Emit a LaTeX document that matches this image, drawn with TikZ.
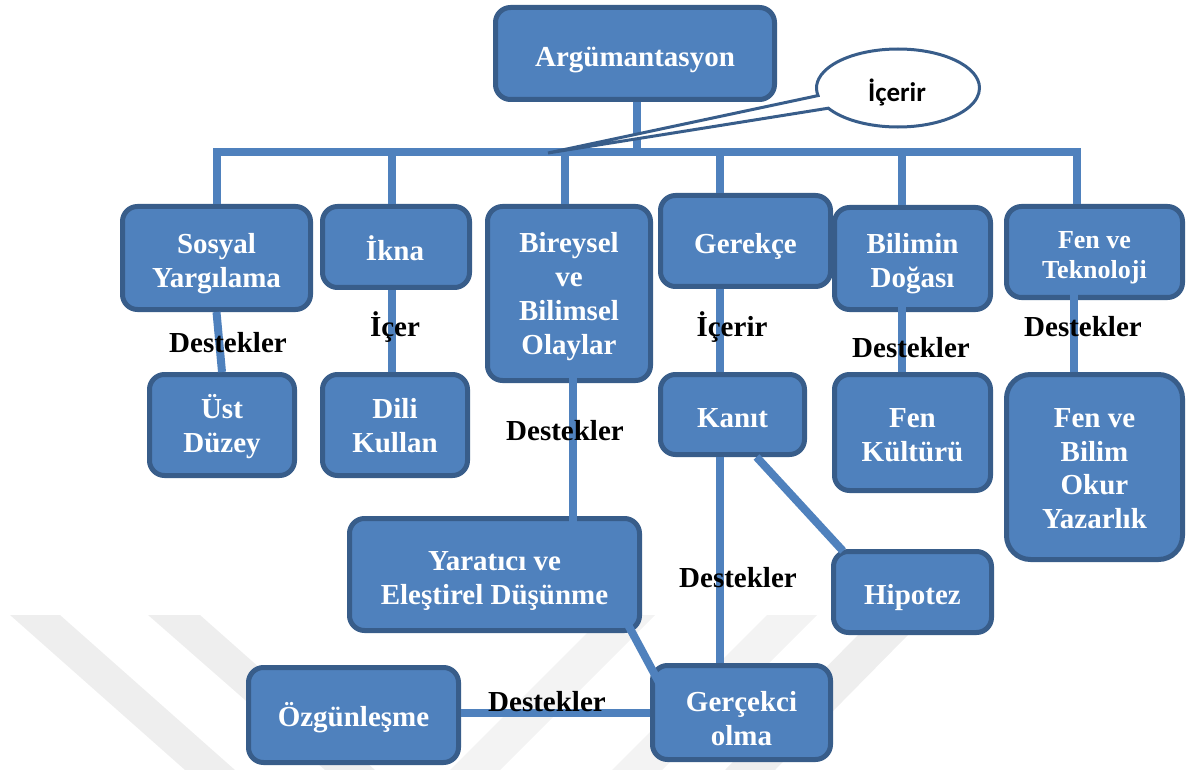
\documentclass[tikz,border=0pt]{standalone}
\usepackage{fontspec}
\setmainfont{Liberation Serif}
\newfontfamily\calibrifont{Carlito}
\usetikzlibrary{shapes.callouts,calc}
\definecolor{boxfill}{HTML}{4F81BD}
\definecolor{boxedge}{HTML}{385D8A}
\definecolor{wmark}{HTML}{EEEEEE}
\definecolor{wmarklight}{HTML}{F3F3F3}
\tikzset{
  conceptbox/.style={rounded corners=15pt, fill=boxfill, draw=boxedge, line width=5pt, inner sep=0pt},
  boxtext/.style={text=white, align=center, inner sep=0pt,
    font=\fontsize{29}{34}\selectfont\bfseries},
  link/.style={draw=boxfill, line width=8pt, line join=miter},
  relation/.style={font=\fontsize{29}{34}\selectfont\bfseries, text=black, inner sep=0pt},
}
\begin{document}
\begin{tikzpicture}[x=1pt,y=-1pt]
\useasboundingbox (0,0) rectangle (1192,770);

% faint background stripes
\fill[wmark] (10,615) -- (60,615) -- (235,770) -- (185,770) -- cycle;
\fill[wmark] (148,615) -- (200,615) -- (375,770) -- (325,770) -- cycle;
\fill[wmarklight] (450,770) -- (500,770) -- (655,615) -- (605,615) -- cycle;
\fill[wmarklight] (612,770) -- (662,770) -- (817,615) -- (767,615) -- cycle;
\fill[wmark] (725,770) -- (775,770) -- (908,635) -- (858,635) -- cycle;

% concept boxes
\node[conceptbox, minimum width=279pt, minimum height=92pt] (arg) at (635,53.5) {};

\node[conceptbox, minimum width=188pt, minimum height=103pt] (sos) at (216.5,258) {};
\node[conceptbox, minimum width=147pt, minimum height=81pt] (ikna) at (396,247) {};
\node[conceptbox, minimum width=163pt, minimum height=174pt] (bir) at (569,293.5) {};
\node[conceptbox, minimum width=170pt, minimum height=91pt] (ger) at (745.5,241) {};
\node[conceptbox, minimum width=156pt, minimum height=102pt] (bil) at (912.5,258.5) {};
\node[conceptbox, minimum width=176pt, minimum height=91pt] (fvt) at (1094.5,252) {};

\node[conceptbox, minimum width=145pt, minimum height=101pt] (ust) at (222,425) {};
\node[conceptbox, minimum width=145pt, minimum height=101pt] (dili) at (395,425) {};
\node[conceptbox, minimum width=144pt, minimum height=80pt] (kanit) at (732.5,414.5) {};
\node[conceptbox, minimum width=156pt, minimum height=116pt] (fk) at (912.5,432.5) {};
\node[conceptbox, rounded corners=24pt, minimum width=176pt, minimum height=185pt] (fbo) at (1094.5,467) {};

\node[conceptbox, minimum width=290pt, minimum height=112pt] (yar) at (494.5,574.5) {};
\node[conceptbox, minimum width=158pt, minimum height=81pt] (hip) at (912.5,592) {};
\node[conceptbox, minimum width=210pt, minimum height=95pt] (ozg) at (353.5,715) {};
\node[conceptbox, minimum width=178pt, minimum height=94pt] (gero) at (741.5,712.5) {};

% box captions
\node[boxtext] (arg-t) at ($(arg.center)+(0,7)$) {Argümantasyon};
\node[boxtext] (sos-t) at ($(sos.center)+(0,6)$) {Sosyal\\Yargılama};
\node[boxtext] (ikna-t) at ($(ikna.center)+(-1,1.5)$) {İkna};
\node[boxtext] (bir-t) at ($(bir.center)+(0,3.5)$) {Bireysel\\ve\\Bilimsel\\Olaylar};
\node[boxtext] (ger-t) at ($(ger.center)+(0,5)$) {Gerekçe};
\node[boxtext] (bil-t) at ($(bil.center)+(0,5.5)$) {Bilimin\\Doğası};
\node[boxtext, font=\fontsize{26}{30}\selectfont\bfseries] (fvt-t) at ($(fvt.center)+(0,6)$) {Fen ve\\Teknoloji};
\node[boxtext] (ust-t) at ($(ust.center)+(0,1.5)$) {Üst\\Düzey};
\node[boxtext] (dili-t) at ($(dili.center)+(0,1)$) {Dili\\Kullan};
\node[boxtext] (kanit-t) at ($(kanit.center)+(0,4)$) {Kanıt};
\node[boxtext] (fk-t) at ($(fk.center)+(0,3)$) {Fen\\Kültürü};
\node[boxtext, font=\fontsize{29}{33.7}\selectfont\bfseries] (fbo-t) at ($(fbo.center)+(0,1.5)$) {Fen ve\\Bilim\\Okur\\Yazarlık};
\node[boxtext] (yar-t) at ($(yar.center)+(0,6.5)$) {Yaratıcı ve\\Eleştirel Düşünme};
\node[boxtext] (hip-t) at ($(hip.center)+(0,6)$) {Hipotez};
\node[boxtext] (ozg-t) at ($(ozg.center)+(0,3)$) {Özgünleşme};
\node[boxtext] (gero-t) at ($(gero.center)+(0,6.5)$) {Gerçekci\\olma};

% branching bar under the root
\coordinate (bar) at (0,152);
\coordinate (argdrop) at ($(arg.south)+(2,0)$);
\coordinate (iknadrop) at ($(ikna.north)+(-4,0)$);
\coordinate (birdrop) at ($(bir.north)+(-4,0)$);
\coordinate (gerdrop) at ($(ger.north)+(-25.5,0)$);
\coordinate (bildrop) at ($(bil.north)+(-10.5,0)$);
\coordinate (fvtdrop) at ($(fvt.north)+(-18,0)$);
\draw[link] (sos.north) -- (sos.north |- bar) -- (fvtdrop |- bar) -- (fvtdrop);
\draw[link] (argdrop) -- (argdrop |- bar);
\draw[link] (iknadrop |- bar) -- (iknadrop);
\draw[link] (birdrop |- bar) -- (birdrop);
\draw[link] (gerdrop |- bar) -- (gerdrop);
\draw[link] (bildrop |- bar) -- (bildrop);

% connectors between levels
\draw[link] (sos.south) -- (ust.north);
\draw[link] ($(ikna.south)+(-4,0)$) -- ($(dili.north)+(-3,0)$);
\draw[link] ($(bir.south)+(4,-20)$) -- ($(yar.north)+(78.5,32)$);
\draw[link] ($(ger.south)+(-25.5,0)$) -- ($(kanit.north)+(-12.5,0)$);
\draw[link] ($(kanit.south)+(-12.5,0)$) -- ($(gero.north)+(-21.5,0)$);
\draw[link] ($(kanit.south)+(24,0)$) -- ($(hip.north west)+(12,2)$);
\draw[link] ($(bil.south)+(-10.5,-12)$) -- ($(fk.north)+(-10.5,0)$);
\draw[link] ($(fvt.south)+(-20.5,-10)$) -- ($(fbo.north)+(-20.5,0)$);
\draw[link] ($(yar.south east)+(-30,-38)$) -- ($(gero.north west)+(12,25)$);
\draw[link] (ozg.east |- gero.west) -- (gero.west);

% relation labels
\node[relation] (r1) at (228,343) {Destekler};
\node[relation] (r2) at (395,327) {İçer};
\node[relation] (r3) at (565,431) {Destekler};
\node[relation] (r4) at (732,327) {İçerir};
\node[relation] (r5) at (738,578) {Destekler};
\node[relation] (r6) at (911,348) {Destekler};
\node[relation] (r7) at (1083,327) {Destekler};
\node[relation] (r8) at (547,702) {Destekler};

% speech bubble pointing at the bar
\coordinate (tip) at (548,153);
\node[ellipse callout, draw=boxedge, line width=3pt, fill=white,
  minimum width=163pt, minimum height=78pt, inner sep=0pt,
  callout absolute pointer={(tip)}, callout pointer arc=20] (call) at (898,88) {};
\node[font=\calibrifont\bfseries\fontsize{27}{30}\selectfont, inner sep=0pt] (call-t)
  at ($(call.center)+(-1,4)$) {İçerir};
\end{tikzpicture}
\end{document}
